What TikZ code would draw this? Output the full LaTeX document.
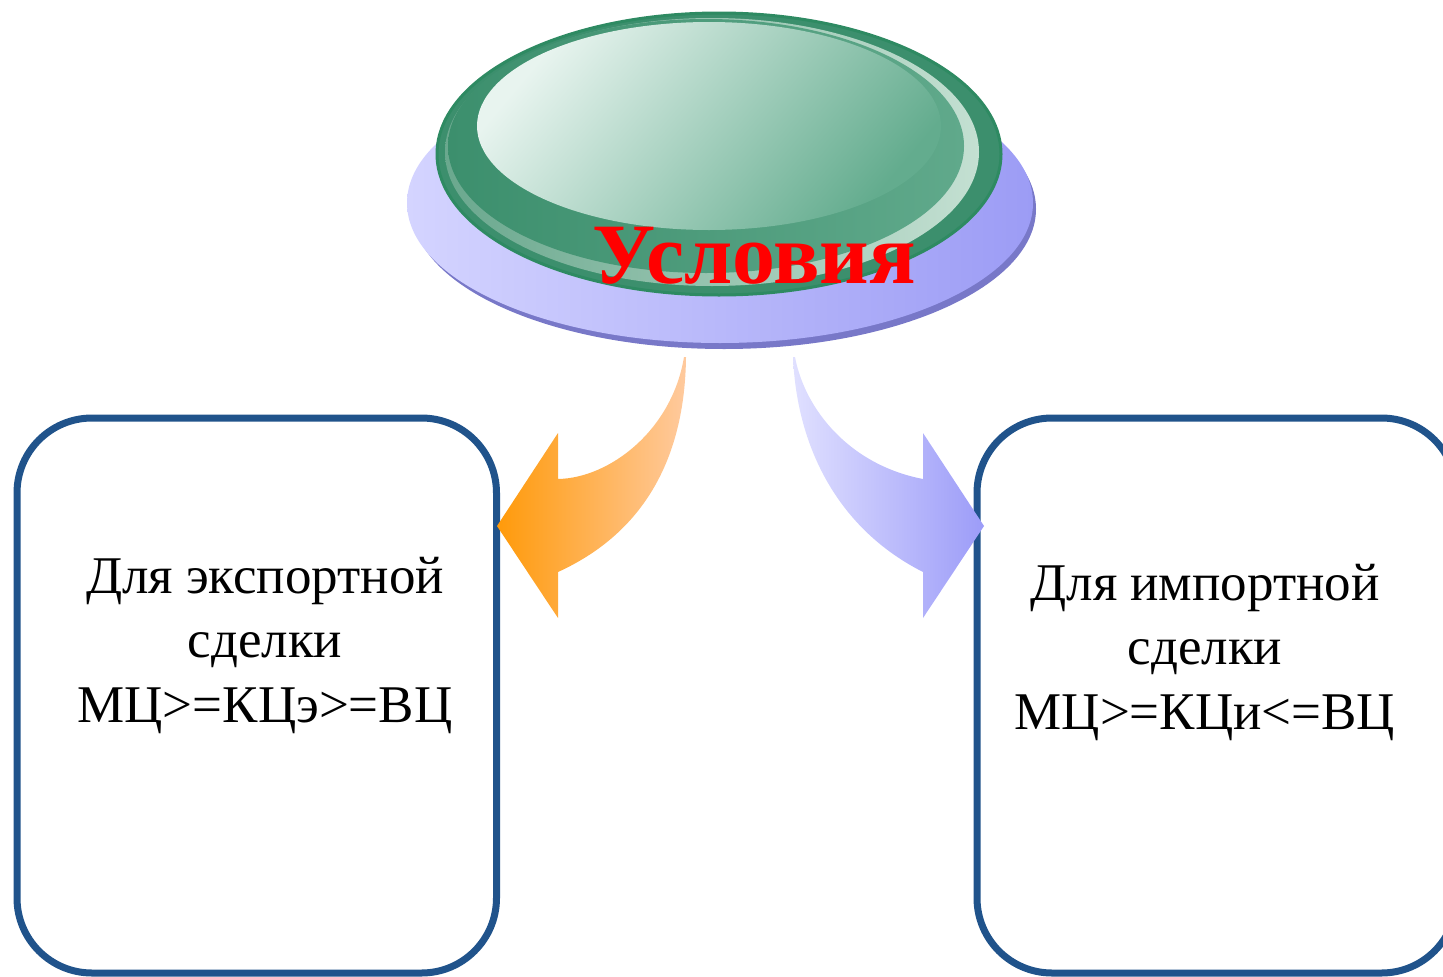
\documentclass[tikz,border=0pt]{standalone}
\usepackage{fontspec}
\setmainfont{Liberation Serif}
\begin{document}
\begin{tikzpicture}[x=1pt,y=-1pt,
  boxstyle/.style={draw=boxblue, line width=7pt, rounded corners=75pt},
  boxtext/.style={align=center, font=\fontsize{53}{64.5}\selectfont, text=black, inner sep=0pt},
]
\definecolor{boxblue}{HTML}{20538B}
\definecolor{lavL}{HTML}{D4D4FF}
\definecolor{lavR}{HTML}{9C9CF5}
\definecolor{lavShadow}{HTML}{7878C8}
\definecolor{gRim}{HTML}{2E8A62}
\definecolor{gDark}{HTML}{3C8F6D}
\definecolor{gMid}{HTML}{60A98B}
\definecolor{gPaleL}{HTML}{6AA88E}
\definecolor{gPaleR}{HTML}{C4E0D2}
\definecolor{gLight}{HTML}{E8F4EF}
\definecolor{gInner}{HTML}{63AC8E}
\definecolor{orL}{HTML}{FF9A0A}
\definecolor{orR}{HTML}{FFCA9E}
\definecolor{blL}{HTML}{E0E0FF}
\definecolor{blR}{HTML}{9C9CF8}
\useasboundingbox (0,0) rectangle (1443,977);
\clip (0,0) rectangle (1443,977);

% base disc
\fill[lavShadow] (724,209) ellipse [x radius=312pt, y radius=140pt];
\shade[left color=lavL, right color=lavR] (720,203) ellipse [x radius=313pt, y radius=140pt];
% green button
\fill[gDark, draw=gRim, line width=3pt] (719,154) ellipse [x radius=282pt, y radius=141pt];
\shade[left color=gPaleL, right color=gPaleR] (712,152) ellipse [x radius=267pt, y radius=134pt];
\shade[left color=gDark, right color=gMid] (706,146) ellipse [x radius=258pt, y radius=127pt];
\shade[top color=gLight, bottom color=gInner, shading angle=50] (709,126) ellipse [x radius=232pt, y radius=104pt];
\node[anchor=base, inner sep=0pt, text=red, font=\fontsize{86}{90}\selectfont\bfseries] (title) at (754,283) {Условия};

% boxes
\draw[boxstyle] (17,418) rectangle (496.5,973);
\draw[boxstyle] (977,418) rectangle (1456.5,973);
\node[boxtext, anchor=base] (export) at (265,722) {Для экспортной\\сделки\\МЦ>=КЦэ>=ВЦ};
\node[boxtext, anchor=base] (import) at (1205,729) {Для импортной\\сделки\\МЦ>=КЦи<=ВЦ};

% curved block arrows
\shade[left color=orL, right color=orR]
  (684,357) -- (686,357) .. controls (685,450) and (650,530) .. (558,572)
  -- (558,618) -- (497,526) -- (558,433) -- (558,479)
  .. controls (610,478) and (672,430) .. (684,357) -- cycle;
\shade[left color=blL, right color=blR]
  (795,357) .. controls (805,410) and (850,465) .. (923,479)
  -- (923,433) -- (984,526) -- (923,618) -- (923,572)
  .. controls (840,530) and (797,450) .. (793,357) -- cycle;
\end{tikzpicture}
\end{document}
